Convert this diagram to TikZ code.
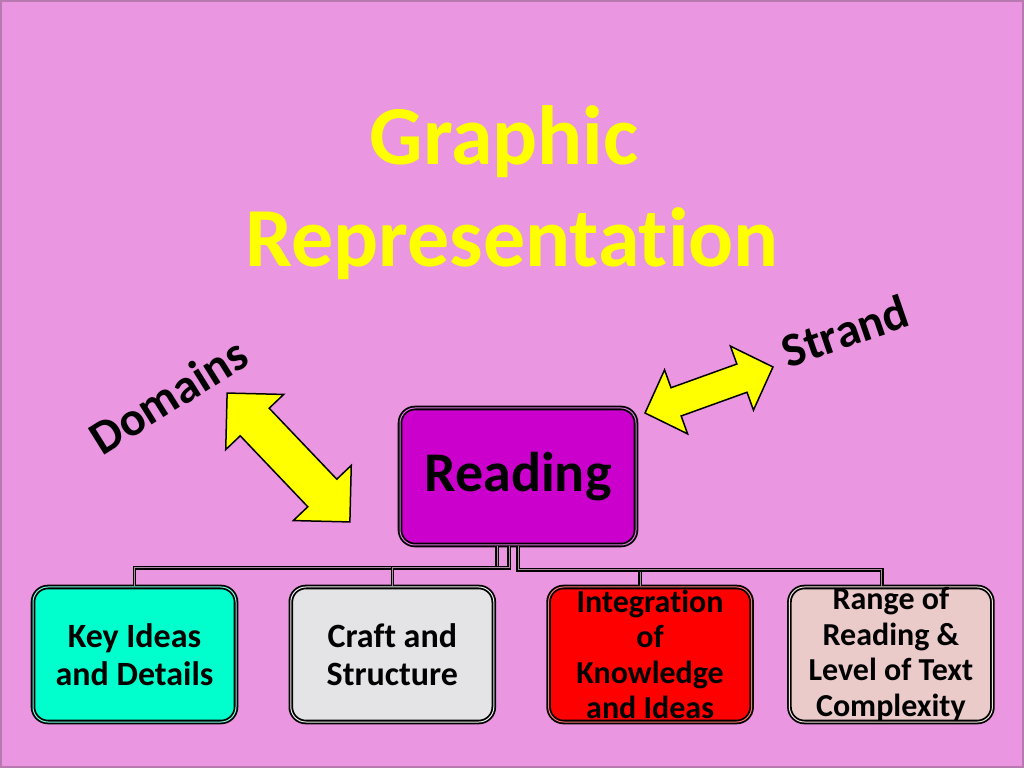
\documentclass[tikz,border=0pt]{standalone}
\usepackage{fontspec}
\setmainfont{Carlito}[Ligatures=NoCommon]
\usepackage{xcolor}
\usepackage{tikz}
\usetikzlibrary{positioning,calc}
\definecolor{slidePink}{HTML}{EB96E1}
\definecolor{slideEdge}{HTML}{B878B0}
\definecolor{slideYellow}{HTML}{FFFF00}
\definecolor{readingFill}{HTML}{CC00CC}
\definecolor{keyFill}{HTML}{00FFCC}
\definecolor{craftFill}{HTML}{E4E4E6}
\definecolor{integFill}{HTML}{FF0000}
\definecolor{rangeFill}{HTML}{EBCACA}
\definecolor{linkInner}{HTML}{B08AA8}

\newcommand{\dblarrow}[6]{%
  \begin{scope}[shift={#1},rotate=#2]
    \draw[blockarrow] (-#3,0) -- (-#3+#6,#5) -- (-#3+#6,#4) -- (#3-#6,#4)
      -- (#3-#6,#5) -- (#3,0) -- (#3-#6,-#5) -- (#3-#6,-#4)
      -- (-#3+#6,-#4) -- (-#3+#6,-#5) -- cycle;
  \end{scope}}

\begin{document}
\begin{tikzpicture}[x=1pt,y=1pt,
  box/.style={draw=black,line width=1.8pt,double=#1!55!white,double distance=1pt,
              fill=#1,rounded corners=15pt,minimum width=203pt,minimum height=135pt,
              inner sep=0pt,align=center,text=black},
  link/.style={draw=black,line width=1.3pt,double=linkInner,double distance=1pt},
  blockarrow/.style={draw=black,line width=1.5pt,fill=slideYellow,line join=miter},
  side/.style={font=\bfseries\fontsize{48}{52}\selectfont,text=black}]
  \useasboundingbox (0,0) rectangle (1024,768);
  \fill[slidePink] (0,0) rectangle (1024,768);
  \draw[slideEdge,line width=2pt] (1,1) rectangle (1023,767);

  % title
  \node[anchor=base,text=slideYellow,font=\bfseries\fontsize{84}{100}\selectfont] (title1) at (504,603) {Graphic};
  \node[anchor=base,text=slideYellow,font=\bfseries\fontsize{84}{100}\selectfont] (title2) at (512,501) {Representation};

  % strand and domains
  \node[box=readingFill,minimum width=236pt,minimum height=137pt,
        font=\bfseries\fontsize{56}{60}\selectfont] (reading) at (518,291.5) {\raisebox{-4pt}{Reading}};
  \node[box=keyFill,font=\bfseries\fontsize{34}{38}\selectfont] (keyideas) at (134.5,113.5) {Key Ideas\\and Details};
  \node[box=craftFill,font=\bfseries\fontsize{34}{38}\selectfont,right=53pt of keyideas] (craft) {Craft and\\Structure};
  \node[box=integFill,font=\bfseries\fontsize{32}{35.5}\selectfont,right=53pt of craft] (integration) {Integration\\of\\Knowledge\\and Ideas};
  \node[box=rangeFill,font=\bfseries\fontsize{32}{35.5}\selectfont,right=36pt of integration] (range) {Range of\\Reading \&\\Level of Text\\Complexity};

  \draw[link] ([xshift=-21pt]reading.south) -- ++(0,-22) -| (keyideas.north);
  \draw[link] ([xshift=-9pt]reading.south) -- ++(0,-22) -| (craft.north);
  \draw[link] (reading.south) -- ++(0,-24) -| ([xshift=-10pt]integration.north);
  \draw[link] (reading.south) -- ++(0,-24) -| ([xshift=-9pt]range.north);

  \node[side,rotate=32] (domains) at (168,372) {Domains};
  \node[side,rotate=19] (strand) at (845,437) {Strand};
  \dblarrow{(288.5,310.5)}{-46.4}{89}{20}{40}{40}
  \dblarrow{(709,378)}{19.8}{68}{15}{34}{33}
\end{tikzpicture}
\end{document}
